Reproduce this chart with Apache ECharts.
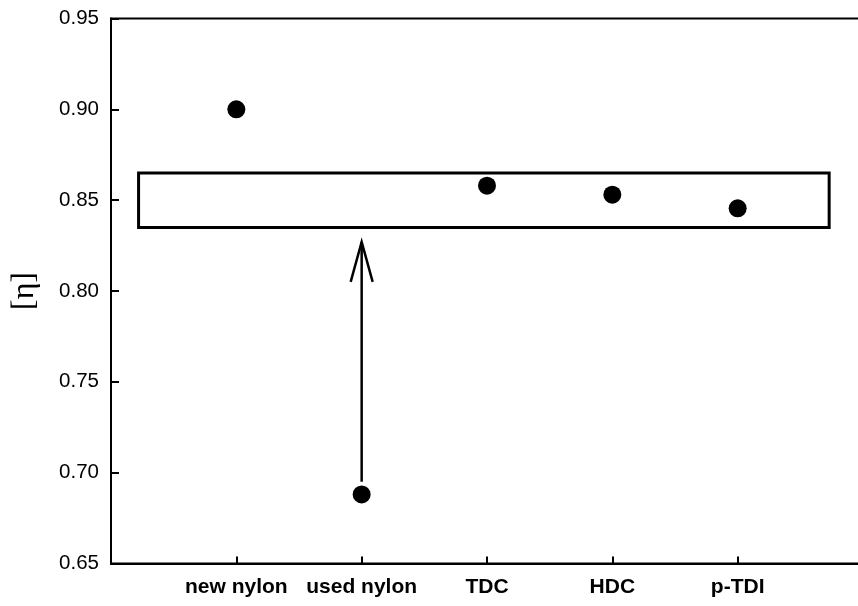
<!DOCTYPE html>
<html>
<head>
<meta charset="utf-8">
<script src="https://cdn.jsdelivr.net/npm/echarts@6/dist/echarts.min.js"></script>
<style>html,body{margin:0;padding:0;background:#fff;}#c{width:858px;height:606px;}</style>
</head>
<body>
<div id="c"></div>
<script>
var categories = ['new nylon', 'used nylon', 'TDC', 'HDC', 'p-TDI'];
var categoryPos = [1, 2, 3, 4, 5];
var etaValues = [0.900, 0.688, 0.858, 0.853, 0.8455];
var yTicks = [0.65, 0.70, 0.75, 0.80, 0.85, 0.90, 0.95];
var boxX = [0.22, 5.73];
var boxY = [0.835, 0.865];
var arrowX = 2;
var arrowY = [0.695, 0.827];

var chart = echarts.init(document.getElementById('c'), null, {renderer: 'canvas'});
var points = categoryPos.map(function (x, i) { return [x, etaValues[i]]; });

chart.setOption({
  animation: false,
  backgroundColor: '#fff',
  grid: {left: 111, top: 18.5, bottom: 42.5, right: -5, show: true, borderColor: '#000', borderWidth: 2,
         containLabel: false, outerBoundsMode: 'none'},
  xAxis: {
    type: 'value', min: 0, max: 6, interval: 1,
    axisLine: {lineStyle: {color: '#000', width: 2}},
    axisTick: {inside: true, length: 7, lineStyle: {color: '#000', width: 2}},
    splitLine: {show: false},
    axisLabel: {
      color: '#000', fontSize: 21, fontWeight: 'bold', fontFamily: 'Liberation Sans, Arial, sans-serif', margin: 13,
      formatter: function (v) { var i = categoryPos.indexOf(v); return i >= 0 ? categories[i] : ''; }
    }
  },
  yAxis: {
    type: 'value', min: 0.65, max: 0.95, interval: 0.05,
    name: '[\u03B7]', nameLocation: 'middle', nameRotate: 90, nameGap: 70,
    nameTextStyle: {color: '#000', fontSize: 32, fontFamily: 'Liberation Serif, Times New Roman, serif'},
    axisLine: {lineStyle: {color: '#000', width: 2}},
    axisTick: {inside: true, length: 8, lineStyle: {color: '#000', width: 2}},
    splitLine: {show: false},
    axisLabel: {
      color: '#000', fontSize: 20.5, fontFamily: 'Liberation Sans, Arial, sans-serif', margin: 12,
      formatter: function (v) { return v.toFixed(2); }
    }
  },
  series: [
    {
      type: 'custom',
      data: [[boxX[0], boxY[0], boxX[1], boxY[1]]],
      encode: {x: [0, 2], y: [1, 3]},
      renderItem: function (params, api) {
        var p0 = api.coord([api.value(0), api.value(3)]);
        var p1 = api.coord([api.value(2), api.value(1)]);
        return {
          type: 'rect',
          shape: {x: p0[0], y: p0[1], width: p1[0] - p0[0], height: p1[1] - p0[1]},
          style: {fill: 'none', stroke: '#000', lineWidth: 3}
        };
      },
      z: 2
    },
    {
      type: 'custom',
      data: [[arrowX, arrowY[0], arrowY[1]]],
      encode: {x: 0, y: [1, 2]},
      renderItem: function (params, api) {
        var a = api.coord([api.value(0), api.value(1)]);
        var b = api.coord([api.value(0), api.value(2)]);
        return {
          type: 'group',
          children: [
            {type: 'line', shape: {x1: a[0], y1: a[1], x2: b[0], y2: b[1]}, style: {stroke: '#000', lineWidth: 2.5}},
            {type: 'polyline', shape: {points: [[b[0] - 11, b[1] + 40], [b[0], b[1]], [b[0] + 11, b[1] + 40]]}, style: {stroke: '#000', lineWidth: 2.5, fill: 'none'}}
          ]
        };
      },
      z: 2
    },
    {
      type: 'scatter',
      data: points,
      symbol: 'circle',
      symbolSize: 18,
      itemStyle: {color: '#000', opacity: 1},
      z: 3
    }
  ]
});
</script>
</body>
</html>
